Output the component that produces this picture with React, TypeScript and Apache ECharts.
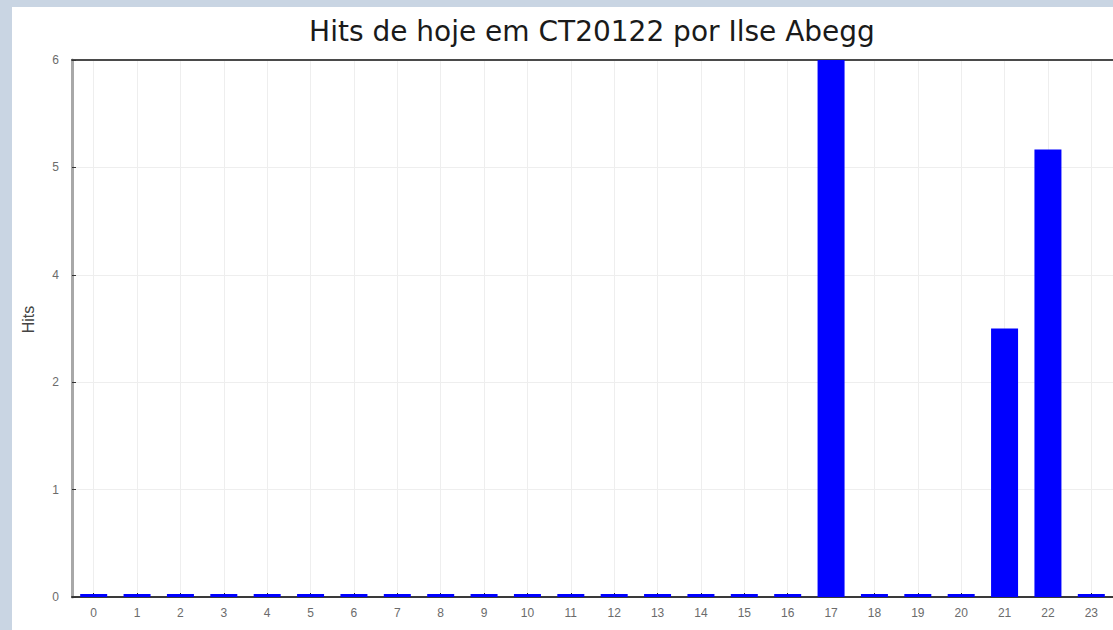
import React, { useEffect, useRef } from "react";
import * as echarts from "echarts";

const TITLE = "Hits de hoje em CT20122 por Ilse Abegg";
const Y_NAME = "Hits";
const hours = ["0","1","2","3","4","5","6","7","8","9","10","11","12","13","14","15","16","17","18","19","20","21","22","23"];
const hits = [0,0,0,0,0,0,0,0,0,0,0,0,0,0,0,0,0,6,0,0,0,3,5,0];
const Y_MIN = 0;
const Y_MAX = 6;
const Y_STEP = 1.2;

export default function App() {
  const ref = useRef<HTMLDivElement>(null);
  useEffect(() => {
    if (!ref.current) return;
    const chart = echarts.init(ref.current, null, { renderer: "svg" });
    chart.setOption({
      animation: false,
      backgroundColor: "#ffffff",
      title: {
        text: TITLE,
        left: 575,
        top: 5,
        textAlign: "center",
        textStyle: {
          fontFamily: "DejaVu Sans",
          fontSize: 28,
          fontWeight: "normal",
          color: "#1a1a1a",
        },
      },
      grid: {
        left: 60,
        top: 53,
        right: 0,
        bottom: 33,
        containLabel: false,
        outerBoundsMode: "none",
      },
      xAxis: [
        {
          type: "category",
          data: hours,
          position: "bottom",
          axisLine: { show: true, lineStyle: { color: "#3a3a3a", width: 2 } },
          axisTick: {
            show: true,
            inside: true,
            alignWithLabel: true,
            interval: 0,
            length: 4,
            lineStyle: { color: "#222", width: 1 },
          },
          axisLabel: {
            interval: 0,
            margin: 10,
            fontFamily: "Liberation Sans",
            fontSize: 12,
            color: "#6b6b6b",
          },
          splitLine: {
            show: true,
            alignWithLabel: true,
            interval: 0,
            lineStyle: { color: "#eeeeee", width: 1 },
          },
        },
        {
          type: "category",
          data: hours,
          position: "top",
          axisLine: { show: true, lineStyle: { color: "#4a4a4a", width: 2 } },
          axisTick: { show: false },
          axisLabel: { show: false },
          splitLine: { show: false },
        },
      ],
      yAxis: {
        type: "value",
        min: Y_MIN,
        max: Y_MAX,
        interval: Y_STEP,
        name: Y_NAME,
        nameLocation: "middle",
        nameGap: 36,
        nameTextStyle: { fontFamily: "Liberation Sans", fontSize: 16, color: "#444", padding: [0, 0, 0, 18] },
        axisLine: { show: true, lineStyle: { color: "#a8a8a8", width: 3 } },
        axisTick: { show: true, inside: true, length: 4, lineStyle: { color: "#333", width: 1 } },
        axisLabel: {
          margin: 13,
          fontFamily: "Liberation Sans",
          fontSize: 12,
          color: "#6b6b6b",
          formatter: (v: number) => String(Math.round(v)),
        },
        splitLine: { show: true, lineStyle: { color: "#eeeeee", width: 1 } },
      },
      series: [
        {
          type: "bar",
          data: hits,
          barWidth: 27,
          barMinHeight: 3,
          itemStyle: { color: "#0000ff" },
        },
      ],
    });
    return () => chart.dispose();
  }, []);
  return (
    <div
      style={{
        position: "fixed",
        left: 0,
        top: 0,
        width: 1113,
        height: 630,
        background: "#c9d5e3",
        overflow: "hidden",
      }}
    >
      <div
        ref={ref}
        style={{ position: "absolute", left: 12, top: 7, width: 1101, height: 623, background: "#fff" }}
      />
    </div>
  );
}
